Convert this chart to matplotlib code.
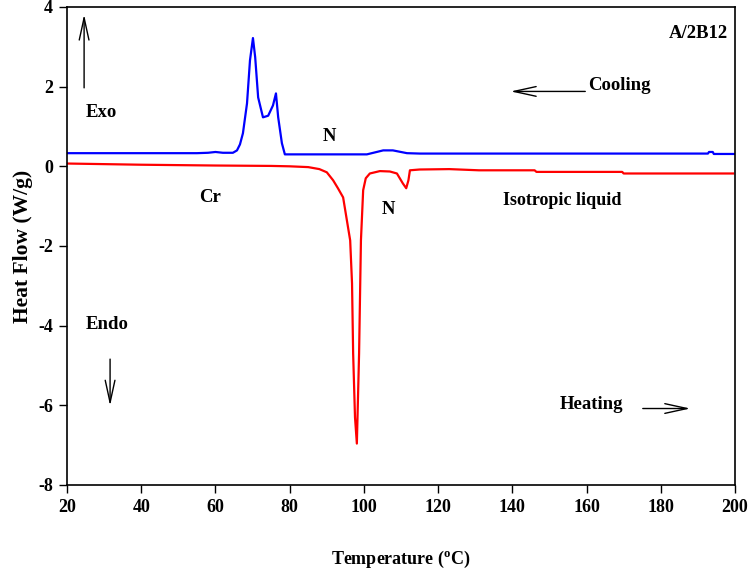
import matplotlib
matplotlib.use("Agg")
from matplotlib import pyplot as plt

plt.rcParams['font.family'] = ['Liberation Serif', 'DejaVu Serif']
plt.rcParams['font.weight'] = 'bold'
plt.rcParams['axes.unicode_minus'] = False
plt.rcParams['mathtext.fontset'] = 'custom'
plt.rcParams['mathtext.rm'] = 'Liberation Serif:bold'

# cooling curve (blue)
cool_t = [20, 40, 55, 58, 60, 62, 64.7, 65.8, 66.6, 67.4, 68.5, 69.3, 70.1, 70.7,
          71.5, 72.8, 74.2, 75.5, 76.3, 76.9, 77.9, 78.7, 90, 100.8, 103, 105.2,
          107.8, 111.6, 115.1, 140, 170, 192.7, 193, 194, 194.3, 200]
cool_hf = [0.33, 0.33, 0.33, 0.34, 0.36, 0.34, 0.34, 0.40, 0.55, 0.83, 1.58, 2.66,
           3.22, 2.74, 1.73, 1.23, 1.27, 1.53, 1.83, 1.23, 0.58, 0.30, 0.30, 0.30,
           0.35, 0.40, 0.40, 0.33, 0.32, 0.32, 0.32, 0.32, 0.36, 0.36, 0.31, 0.31]

# heating curve (red)
heat_t = [20, 40, 60, 75, 80, 85, 88, 90, 91.7, 93, 94.4, 96.3, 96.8, 97.1, 97.6,
          98.1, 98.7, 99.2, 99.8, 100.5, 101.6, 104.3, 107, 108.9, 110.5, 111.4,
          112.0, 112.4, 115, 123, 131, 146, 146.5, 169.6, 170, 199.5]
heat_hf = [0.07, 0.04, 0.02, 0.01, 0.0, -0.02, -0.07, -0.15, -0.35, -0.55, -0.78,
           -1.86, -2.94, -4.7, -6.3, -6.96, -4.7, -1.86, -0.6, -0.3, -0.18, -0.12,
           -0.13, -0.18, -0.43, -0.55, -0.35, -0.1, -0.08, -0.07, -0.1, -0.1,
           -0.14, -0.14, -0.18, -0.18]

xticks = [20, 40, 60, 80, 100, 120, 140, 160, 180, 200]
yticks = [-8, -6, -4, -2, 0, 2, 4]

fig = plt.figure(figsize=(7.49, 5.72), dpi=100)
ax = fig.add_axes([0.0895, 0.1521, 0.8918, 0.8357])

ax.plot(cool_t, cool_hf, color='#0000ff', lw=1.6)
ax.plot(heat_t, heat_hf, color='#ff0000', lw=1.6)

ax.set_xlim(20, 200)
ax.set_ylim(-8, 4)
ax.set_xticks(xticks)
ax.set_yticks(yticks)
ax.tick_params(direction='out', length=6, width=1, labelsize=13, pad=4)
for lab in ax.get_xticklabels() + ax.get_yticklabels():
    lab.set_fontweight('bold')
for s in ax.spines.values():
    s.set_linewidth(1.2)

ax.set_xlabel('Temperature ($^{\\rm o}$C)', fontsize=13, fontweight='bold', labelpad=24)
ax.set_ylabel('Heat Flow (W/g)', fontsize=15.5, fontweight='bold', labelpad=4)

fs = 13.5
ax.text(198, 3.34, 'A/2B12', fontsize=fs, fontweight='bold', ha='right', va='center')
ax.text(25, 1.36, 'Exo', fontsize=fs, fontweight='bold', ha='left', va='center')
ax.text(160.4, 2.03, 'Cooling', fontsize=fs, fontweight='bold', ha='left', va='center')
ax.text(90.6, 0.75, 'N', fontsize=fs, fontweight='bold', ha='center', va='center')
ax.text(58.5, -0.78, 'Cr', fontsize=fs, fontweight='bold', ha='center', va='center')
ax.text(106.5, -1.08, 'N', fontsize=fs, fontweight='bold', ha='center', va='center')
ax.text(137.5, -0.85, 'Isotropic liquid', fontsize=13, fontweight='bold', ha='left', va='center')
ax.text(24.9, -3.97, 'Endo', fontsize=fs, fontweight='bold', ha='left', va='center')
ax.text(152.8, -5.98, 'Heating', fontsize=fs, fontweight='bold', ha='left', va='center')

arrow = dict(arrowstyle='->,head_length=1.6,head_width=0.35', color='black', lw=1)
ax.annotate('', xy=(24.6, 3.88), xytext=(24.6, 1.9), arrowprops=arrow)
ax.annotate('', xy=(138.8, 1.88), xytext=(160.4, 1.88), arrowprops=arrow)
ax.annotate('', xy=(31.6, -6.08), xytext=(31.6, -4.77), arrowprops=arrow)
ax.annotate('', xy=(188.7, -6.08), xytext=(174.4, -6.08), arrowprops=arrow)

fig.savefig('out.png', dpi=100)
